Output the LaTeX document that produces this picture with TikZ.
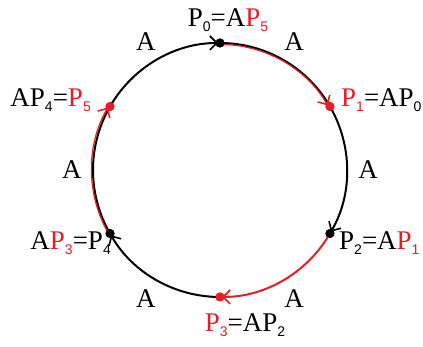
\documentclass[tikz,border=0pt]{standalone}
\usepackage{fontspec}
\setmainfont{Liberation Serif}
\newfontfamily\subfont{Liberation Sans}
\usetikzlibrary{arrows.meta,positioning}
\definecolor{ptred}{RGB}{232,28,36}
\newcommand{\psub}[1]{\raisebox{-0.45ex}{\fontsize{14}{14}\selectfont\subfont #1}}
\newcommand{\Pn}[1]{P\psub{#1}}
\newcommand{\Rn}[1]{\textcolor{ptred}{P\psub{#1}}}
\tikzset{
  dot/.style={circle, fill=#1, inner sep=0pt, minimum size=9pt},
  dot/.default={black},
  arcline/.style={line width=2pt, draw=#1, shorten >=2pt, -{Straight Barb[length=7pt,width=14pt,line width=1.6pt]}},
  arcline/.default={black},
  lbl/.style={font=\fontsize{27}{27}\selectfont, inner sep=1pt},
  alab/.style={font=\fontsize{27}{27}\selectfont, inner sep=0pt}
}
\begin{document}
\begin{tikzpicture}[x=1pt, y=1pt]
  \useasboundingbox (-220,-177) rectangle (203,170);
  \def\R{127}
  % points on the orbit
  \node[dot] (p0) at (90:\R) {};
  \node[dot=ptred] (p1) at (30:\R) {};
  \node[dot] (p2) at (-30:\R) {};
  \node[dot=ptred] (p3) at (-90:\R) {};
  \node[dot] (p4) at (-150:\R) {};
  \node[dot=ptred] (p5) at (150:\R) {};
  % arcs, clockwise
  \draw[arcline] (p5.center) arc[start angle=150, end angle=90, radius=\R];
  \draw[line width=2pt] (p0.center) arc[start angle=90, end angle=30, radius=\R];
  \draw[arcline=ptred, line width=1.2pt] (90:\R-1.4) arc[start angle=90, end angle=30, radius=\R-1.4];
  \draw[arcline] (p1.center) arc[start angle=30, end angle=-30, radius=\R];
  \draw[arcline=ptred] (p2.center) arc[start angle=-30, end angle=-90, radius=\R];
  \draw[arcline] (p3.center) arc[start angle=-90, end angle=-150, radius=\R];
  \draw[line width=2pt] (p4.center) arc[start angle=-150, end angle=-210, radius=\R];
  \draw[arcline=ptred, line width=1.2pt] (-150:\R+1.4) arc[start angle=-150, end angle=-210, radius=\R+1.4];
  \node[dot] at (p0) {};
  \node[dot=ptred] at (p1) {};
  \node[dot] at (p2) {};
  \node[dot=ptred] at (p3) {};
  \node[dot] at (p4) {};
  \node[dot=ptred] at (p5) {};
  % labels of the points
  \node[lbl] (l0) at (8,150) {\Pn{0}=A\Rn{5}};
  \node[lbl, anchor=west] (l1) at (120,70) {\Rn{1}=A\Pn{0}};
  \node[lbl, anchor=west] (l2) at (118,-73) {\Pn{2}=A\Rn{1}};
  \node[lbl] (l3) at (25,-155) {\Rn{3}=A\Pn{2}};
  \node[lbl, anchor=east] (l4) at (-108,-73) {A\Rn{3}=\Pn{4}};
  \node[lbl, anchor=east] (l5) at (-128,70) {A\Pn{4}=\Rn{5}};
  % the map A on each arc
  \foreach \a in {120,60,0,-60,-120,180}
    \node[alab] (a\a) at (\a:148) {A};
\end{tikzpicture}
\end{document}
